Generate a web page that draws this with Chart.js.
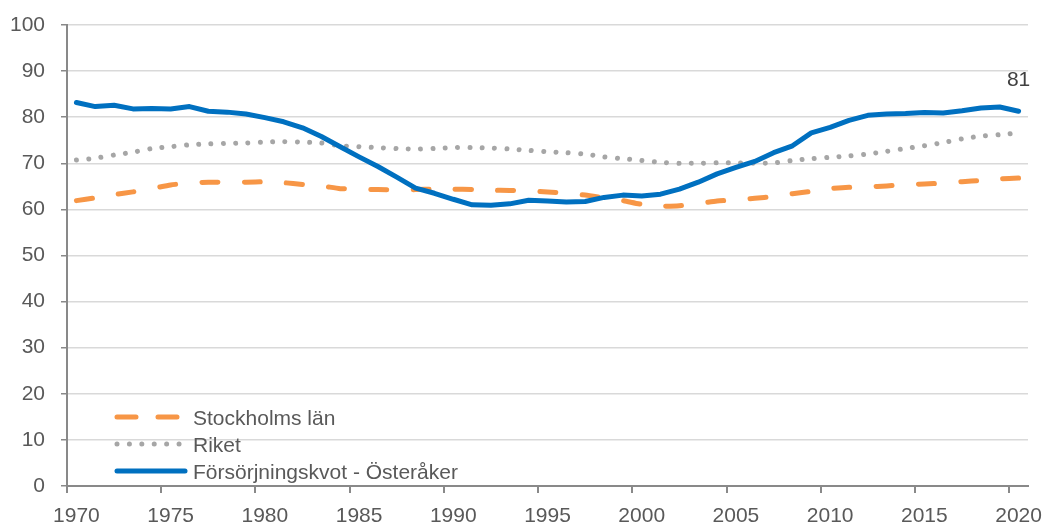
<!DOCTYPE html>
<html>
<head>
<meta charset="utf-8">
<script src="https://cdn.jsdelivr.net/npm/chart.js@4/dist/chart.umd.min.js"></script>
<style>
  html, body { margin: 0; padding: 0; background: #fff; }
  #wrap { width: 1046px; height: 527px; position: relative; }
</style>
</head>
<body>
<div id="wrap"><canvas id="chart"></canvas></div>
<script>
const years = [];
for (let y = 1970; y <= 2020; y++) years.push(String(y));

const stockholm = [
  61.9, 62.5, 63.2, 63.8, 64.5, 65.3, 65.7, 65.9, 65.9, 65.9,
  66.0, 65.8, 65.4, 65.1, 64.5, 64.4, 64.3, 64.2, 64.3, 64.4,
  64.4, 64.3, 64.2, 64.1, 64.0, 63.8, 63.5, 63.1, 62.5, 61.9,
  61.1, 60.7, 60.8, 61.3, 61.8, 62.1, 62.4, 62.8, 63.4, 63.9,
  64.5, 64.8, 64.9, 65.1, 65.4, 65.5, 65.7, 66.0, 66.3, 66.6,
  66.8
];
const riket = [
  70.7, 71.1, 71.8, 72.4, 73.2, 73.6, 74.0, 74.2, 74.3, 74.4,
  74.6, 74.7, 74.6, 74.4, 73.8, 73.6, 73.4, 73.2, 73.1, 73.2,
  73.4, 73.4, 73.3, 73.1, 72.8, 72.5, 72.3, 72.0, 71.4, 71.0,
  70.6, 70.2, 70.0, 70.0, 70.1, 70.1, 70.0, 70.1, 70.6, 71.0,
  71.3, 71.6, 72.0, 72.6, 73.2, 73.8, 74.5, 75.3, 75.9, 76.2,
  76.6
];
const osteraker = [
  83.2, 82.3, 82.6, 81.8, 81.9, 81.8, 82.3, 81.3, 81.1, 80.7,
  79.9, 79.0, 77.7, 75.8, 73.6, 71.4, 69.3, 67.0, 64.6, 63.5,
  62.2, 61.0, 60.9, 61.2, 62.0, 61.8, 61.6, 61.7, 62.6, 63.1,
  62.9, 63.3, 64.4, 65.9, 67.7, 69.1, 70.4, 72.3, 73.8, 76.6,
  77.8, 79.3, 80.4, 80.7, 80.8, 81.0, 80.9, 81.4, 82.0, 82.2,
  81.3
];
const seriesNames = ["Stockholms län", "Riket", "Försörjningskvot - Österåker"];
const lastLabel = "81";

const FONT = "'Liberation Sans', Arial, sans-serif";
const TXT = "#595959";
const AXIS = "#898989";

// legend + end label, drawn in the plot area like the original
const extras = {
  id: "extras",
  afterDatasetsDraw(chart) {
    const ctx = chart.ctx;
    ctx.save();
    // end value label above last point of Österåker
    const meta = chart.getDatasetMeta(2);
    const pt = meta.data[meta.data.length - 1];
    ctx.font = "21px " + FONT;
    ctx.fillStyle = "#404040";
    ctx.textAlign = "center";
    ctx.textBaseline = "middle";
    ctx.fillText(lastLabel, pt.x, pt.y - 31);

    // legend
    const rows = [417, 444, 471];
    ctx.textAlign = "left";
    ctx.textBaseline = "alphabetic";
    chart.data.datasets.forEach((ds, i) => {
      const y = rows[i];
      ctx.beginPath();
      ctx.strokeStyle = ds.borderColor;
      ctx.lineWidth = ds.borderWidth;
      ctx.lineCap = "round";
      ctx.setLineDash(ds.legendDash || []);
      ctx.moveTo(117, y);
      ctx.lineTo(i === 1 ? 180 : 185, y);
      ctx.stroke();
      ctx.setLineDash([]);
      ctx.fillStyle = TXT;
      ctx.fillText(ds.label, 193, y + 8);
    });
    ctx.restore();
  }
};

new Chart(document.getElementById("chart"), {
  type: "line",
  data: {
    labels: years,
    datasets: [
      {
        label: seriesNames[0],
        data: stockholm,
        borderColor: "#F79646",
        borderWidth: 5,
        borderDash: [16, 26.3],
        borderCapStyle: "round",
        legendDash: [19, 22],
        pointRadius: 0,
        tension: 0.2,
        order: 3
      },
      {
        label: seriesNames[1],
        data: riket,
        borderColor: "#A6A6A6",
        borderWidth: 5,
        borderDash: [0.01, 12.33],
        borderCapStyle: "round",
        legendDash: [0.01, 12.4],
        pointRadius: 0,
        tension: 0.2,
        order: 2
      },
      {
        label: seriesNames[2],
        data: osteraker,
        borderColor: "#0070C0",
        borderWidth: 5,
        borderCapStyle: "round",
        borderJoinStyle: "round",
        pointRadius: 0,
        tension: 0,
        order: 1
      }
    ]
  },
  options: {
    responsive: true,
    maintainAspectRatio: false,
    animation: false,
    layout: { padding: { top: 25, right: 18, left: 0, bottom: 0 } },
    plugins: {
      legend: { display: false },
      tooltip: { enabled: false }
    },
    scales: {
      x: {
        type: "category",
        offset: true,
        // fixed axis box so the plot area sits where the original's does
        afterFit(s) { s.height = 41; s.paddingLeft = 0; s.paddingRight = 0; },
        grid: {
          offset: true,
          drawOnChartArea: false,
          drawTicks: true,
          tickLength: 7,
          lineWidth: 2,
          color: (c) => (c.index !== undefined && c.index % 5 === 0 ? AXIS : "rgba(0,0,0,0)")
        },
        border: { display: true, color: AXIS, width: 2 },
        ticks: {
          autoSkip: false,
          maxRotation: 0,
          padding: 11,
          color: TXT,
          font: { family: FONT, size: 21 },
          callback: function (v, i) { return i % 5 === 0 ? this.getLabelForValue(v) : ""; }
        }
      },
      y: {
        min: 0,
        max: 100,
        afterFit(s) { s.width = 67; s.paddingTop = 0; s.paddingBottom = 0; },
        grid: {
          color: "#D9D9D9",
          lineWidth: 1.5,
          tickColor: AXIS,
          tickLength: 6
        },
        border: { display: true, color: AXIS, width: 2 },
        ticks: {
          stepSize: 10,
          padding: 16,
          color: TXT,
          font: { family: FONT, size: 21 }
        }
      }
    }
  },
  plugins: [extras]
});
</script>
</body>
</html>
